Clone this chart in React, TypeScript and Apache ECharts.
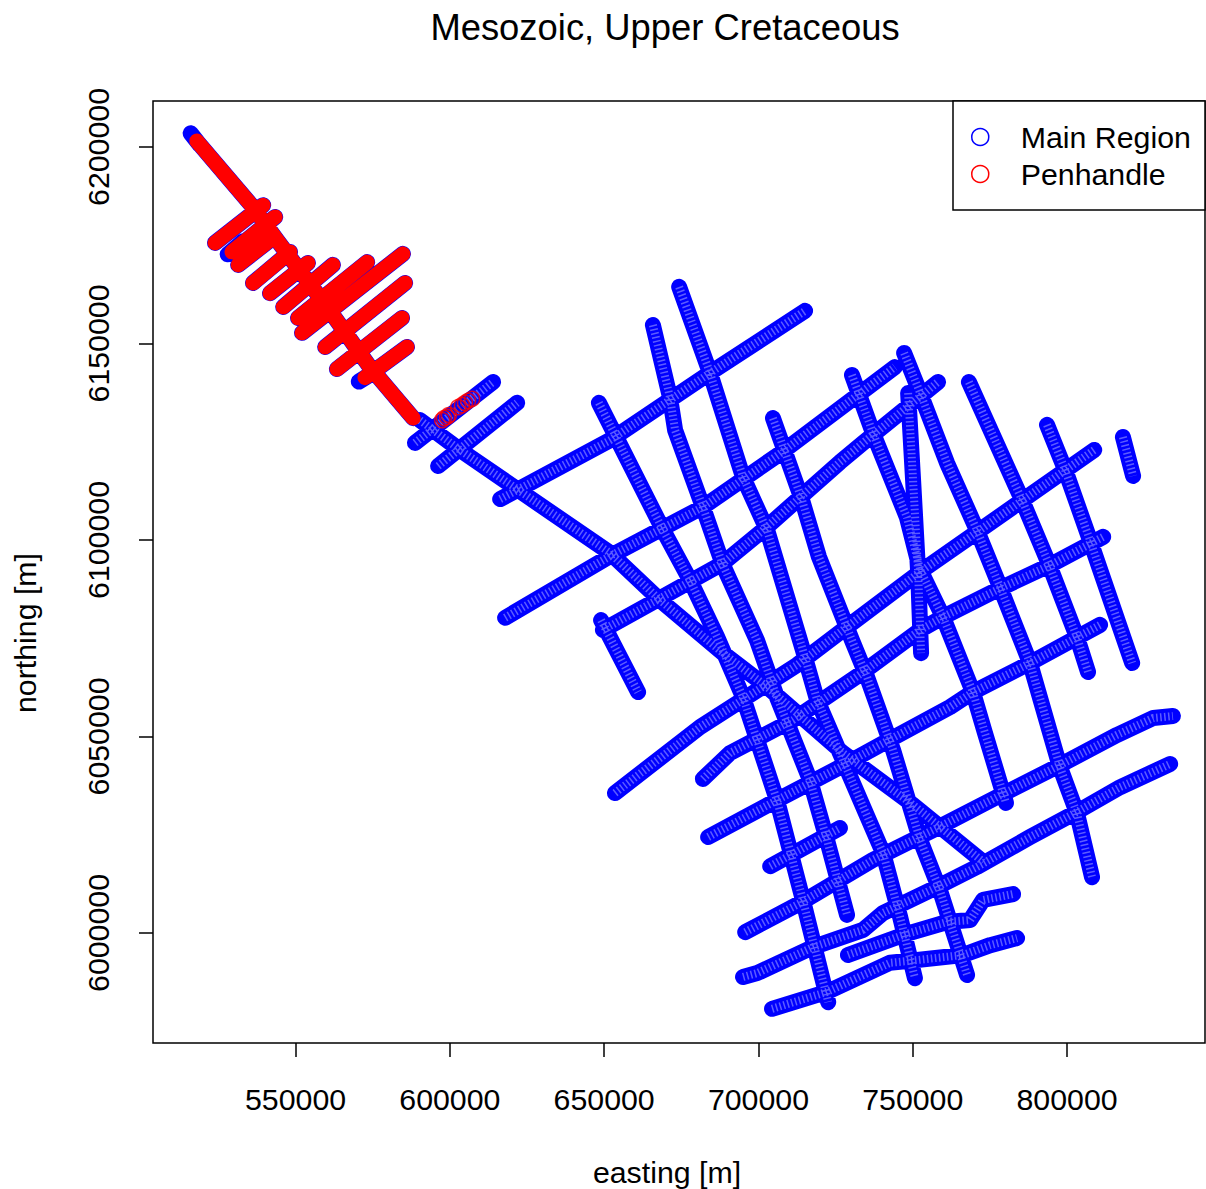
import React, { useEffect, useRef } from "react";
import * as echarts from "echarts";

type Pt = [number, number];

const chartTitle = "Mesozoic, Upper Cretaceous";
const xName = "easting [m]";
const yName = "northing [m]";
const xTicks = [550000, 600000, 650000, 700000, 750000, 800000];
const yTicks = [6000000, 6050000, 6100000, 6150000, 6200000];

// Main region survey lines running SW-NE
const lineA: Pt[] = [[617900, 6080200], [651900, 6095900], [682000, 6108400], [706300, 6121600], [744200, 6144000]];
const lineB: Pt[] = [[616300, 6110400], [623700, 6113500], [651900, 6125400], [684300, 6142500], [715100, 6158300]];
const lineC: Pt[] = [[649600, 6077100], [667100, 6084700], [688500, 6094100], [701500, 6102500], [726400, 6119800], [733900, 6124700], [758200, 6140200]];
const lineD: Pt[] = [[653500, 6035600], [681100, 6052400], [712500, 6068200], [728700, 6077900], [752400, 6091900], [770800, 6102000], [808800, 6122900]];
const lineE: Pt[] = [[682000, 6039200], [690800, 6045800], [711200, 6054200], [733600, 6066200], [752400, 6077100], [759800, 6080400], [777300, 6087300], [794500, 6093600], [811700, 6100800]];
const lineF: Pt[] = [[683700, 6024400], [706000, 6033800], [726400, 6042200], [740400, 6048300], [762100, 6057500], [769500, 6061300], [788000, 6068700], [810700, 6078400]];
const lineG: Pt[] = [[703800, 6017000], [726400, 6026700]];
const lineH: Pt[] = [[695700, 6000200], [713500, 6007600], [737100, 6018600], [757900, 6026700], [777300, 6034600], [797700, 6042700], [816200, 6050400], [827900, 6054700], [834300, 6055200]];
const lineI: Pt[] = [[695000, 5988800], [699600, 5989800], [717700, 5996400], [733900, 6000800], [740400, 6005100], [757900, 6011700], [770800, 6016800], [788000, 6024400], [803200, 6030800], [817200, 6037100], [833400, 6043000]];
const lineJ: Pt[] = [[729000, 5994400], [746900, 5999500], [761100, 6002800], [768600, 6003300], [772800, 6008400], [782500, 6009900]];
const lineK: Pt[] = [[704400, 5980700], [722200, 5985000], [742600, 5992400], [751400, 5993100], [766300, 5994400], [775100, 5996900], [783800, 5998700]];
const lineL: Pt[] = [[588700, 6124700], [614000, 6140200]];
const lineM: Pt[] = [[596200, 6118800], [621800, 6134900]];
// Long NW-SE diagonal
const diagonal: Pt[] = [[590300, 6130500], [603300, 6122900], [651900, 6096700], [668100, 6084700], [688500, 6071200], [702800, 6062600], [727400, 6045800], [750100, 6032600], [772800, 6018100]];
// Main region survey lines running N-S
const lineN: Pt[] = [[648300, 6134900], [669100, 6102500], [677800, 6089800], [686600, 6075300], [695000, 6060000], [706000, 6033800], [714400, 6008400], [722600, 5982400]];
const lineO: Pt[] = [[665800, 6154700], [671300, 6136400], [673000, 6127900], [682000, 6108400], [688500, 6093600], [699500, 6074500], [706000, 6060000], [716700, 6038900], [722200, 6023700], [728700, 6004600]];
const lineP: Pt[] = [[674300, 6164400], [684300, 6142500], [695000, 6116000], [702800, 6102500], [714400, 6072000], [719000, 6059300], [726400, 6045800], [740400, 6020300], [745900, 6004100], [750700, 5988500]];
const lineQ: Pt[] = [[704700, 6131000], [714100, 6110200], [719600, 6095700], [730300, 6074500], [735200, 6065100], [743600, 6046600], [752400, 6023700], [758800, 6010900], [767600, 5989300]];
const lineR: Pt[] = [[730300, 6142000], [737100, 6127200], [748100, 6105800], [752400, 6092400], [759800, 6080400], [769500, 6061300], [773400, 6050900], [780200, 6033100]];
const lineS: Pt[] = [[747200, 6147600], [752400, 6137400], [761100, 6119600], [770800, 6102500], [778300, 6088000], [788000, 6068700], [797700, 6042200], [803200, 6030500], [808100, 6014200]];
const lineT: Pt[] = [[748500, 6137400], [750100, 6115300], [751700, 6092400], [752700, 6071200]];
const lineU: Pt[] = [[768200, 6140200], [785400, 6110200], [794000, 6094100], [803200, 6075300], [806800, 6066400]];
const lineV: Pt[] = [[793500, 6129300], [799400, 6117800], [807400, 6100000], [821100, 6068700]];
const lineW: Pt[] = [[818100, 6126200], [821400, 6116300]];
const lineX: Pt[] = [[649000, 6079600], [661000, 6061300]];

// Blue ends that show past the red Penhandle lines
const stubNorth: Pt[] = [[516000, 6203500], [519000, 6200500]];
const stubWest: Pt[] = [[528000, 6172700], [533000, 6176000]];
const stubSouth: Pt[] = [[570500, 6140300], [574000, 6142000]];

// Penhandle survey lines
const panMain: Pt[] = [[518000, 6201500], [536200, 6184700], [544000, 6176300], [560200, 6159300], [574100, 6144000], [583900, 6134900], [588100, 6131000]];
const panA: Pt[] = [[523900, 6175600], [539500, 6185200]];
const panB: Pt[] = [[529400, 6173300], [543400, 6182200]];
const panC: Pt[] = [[531400, 6170000], [541700, 6176300]];
const panD: Pt[] = [[536200, 6165400], [548200, 6173300]];
const panE: Pt[] = [[541700, 6162800], [554000, 6170500]];
const panF: Pt[] = [[546000, 6159300], [562100, 6170000]];
const panG: Pt[] = [[550800, 6156500], [573200, 6170700]];
const panH: Pt[] = [[552100, 6152700], [584800, 6172800]];
const panI: Pt[] = [[559600, 6149100], [585500, 6165400]];
const panJ: Pt[] = [[563400, 6143500], [584500, 6156500]];
const panK: Pt[] = [[572500, 6141300], [586100, 6149100]];
const panRings: Pt[] = [[597500, 6130500], [598100, 6131000], [599100, 6131300], [599700, 6131800], [602700, 6133800], [603900, 6134300], [604900, 6134900], [605900, 6135400], [607200, 6135900]];

const mainLines = [lineA, lineB, lineC, lineD, lineE, lineF, lineG, lineH, lineI, lineJ, lineK, lineL, lineM, diagonal, lineN, lineO, lineP, lineQ, lineR, lineS, lineT, lineU, lineV, lineW, lineX];
const stubs = [stubNorth, stubWest, stubSouth];
const panLines = [panMain, panA, panB, panC, panD, panE, panF, panG, panH, panI, panJ, panK];

const joinTracks = (tracks: Pt[][]) =>
  tracks.flatMap((t, i) => (i ? [["-", "-"] as any, ...t] : t));

const FONT = "Liberation Sans";
const BLUE = "#0000ff";
const RED = "#ff0000";

export default function App() {
  const ref = useRef<HTMLDivElement>(null);
  useEffect(() => {
    const chart = echarts.init(ref.current!, undefined, { renderer: "svg" });
    const axisCommon = {
      type: "value" as const,
      nameLocation: "middle" as const,
      splitLine: { show: false },
      axisLine: { show: false },
    };
    const tickStyle = { show: true, length: 14, lineStyle: { color: "#000", width: 1.5 } };
    const labelStyle = { color: "#000", fontFamily: FONT, fontSize: 30.3 };
    chart.setOption({
      animation: false,
      backgroundColor: "#fff",
      title: {
        text: chartTitle,
        left: 660,
        top: 4,
        textAlign: "center",
        textStyle: { color: "#000", fontFamily: FONT, fontSize: 36.4, fontWeight: "normal" },
      },
      grid: { left: 153, top: 101, width: 1052, height: 942, show: true, borderColor: "#000", borderWidth: 1.5, backgroundColor: "transparent", containLabel: false, outerBoundsMode: "none" },
      xAxis: {
        ...axisCommon,
        min: 503800,
        max: 844700,
        name: xName,
        nameGap: 114,
        nameTextStyle: { ...labelStyle, padding: [0, 24, 0, 0] },
        axisTick: { ...tickStyle, customValues: xTicks },
        axisLabel: { ...labelStyle, margin: 41, customValues: xTicks, formatter: (v: number) => String(v) },
      },
      yAxis: {
        ...axisCommon,
        min: 5972000,
        max: 6211700,
        name: yName,
        nameGap: 113,
        nameTextStyle: { ...labelStyle, padding: [0, 122, 0, 0] },
        axisTick: { ...tickStyle, customValues: yTicks },
        axisLabel: { ...labelStyle, margin: 40, rotate: 90, customValues: yTicks, formatter: (v: number) => String(v) },
      },
      legend: {
        orient: "vertical",
        left: 966,
        top: 117,
        itemWidth: 17,
        itemHeight: 17,
        itemGap: 7,
        selectedMode: false,
        textStyle: { ...labelStyle, padding: [0, 0, 0, 27] },
        data: [
          { name: "Main Region", icon: "circle", itemStyle: { color: "rgba(0,0,0,0)", borderColor: BLUE, borderWidth: 1.5 } },
          { name: "Penhandle", icon: "circle", itemStyle: { color: "rgba(0,0,0,0)", borderColor: RED, borderWidth: 1.5 } },
        ],
      },
      graphic: [
        { type: "rect", z: 3, shape: { x: 953, y: 101, width: 252, height: 109 }, style: { fill: "#fff", stroke: "#000", lineWidth: 1.5 } },
      ],
      series: [
        {
          name: "Main Region", type: "line", z: 2, showSymbol: false, connectNulls: false,
          data: joinTracks([...mainLines, ...stubs, ...panLines]),
          lineStyle: { color: BLUE, width: 16, cap: "round", join: "round" },
        },
        {
          name: "Main Region", type: "line", z: 2, showSymbol: false, connectNulls: false, silent: true,
          data: joinTracks(mainLines),
          lineStyle: { color: "#9a9aff", opacity: 0.6, width: 8, type: [1.5, 2.5], cap: "butt" },
        },
        {
          name: "Penhandle", type: "line", z: 2, showSymbol: false, connectNulls: false,
          data: joinTracks(panLines),
          lineStyle: { color: RED, width: 15, cap: "round", join: "round" },
        },
        {
          name: "Penhandle", type: "scatter", z: 2, symbol: "circle", symbolSize: 15, silent: true,
          data: panRings,
          itemStyle: { color: "rgba(0,0,0,0)", borderColor: RED, borderWidth: 1.5 },
        },
      ],
    });
    return () => chart.dispose();
  }, []);
  return <div ref={ref} style={{ position: "absolute", left: 0, top: 0, width: 1206, height: 1189 }} />;
}
